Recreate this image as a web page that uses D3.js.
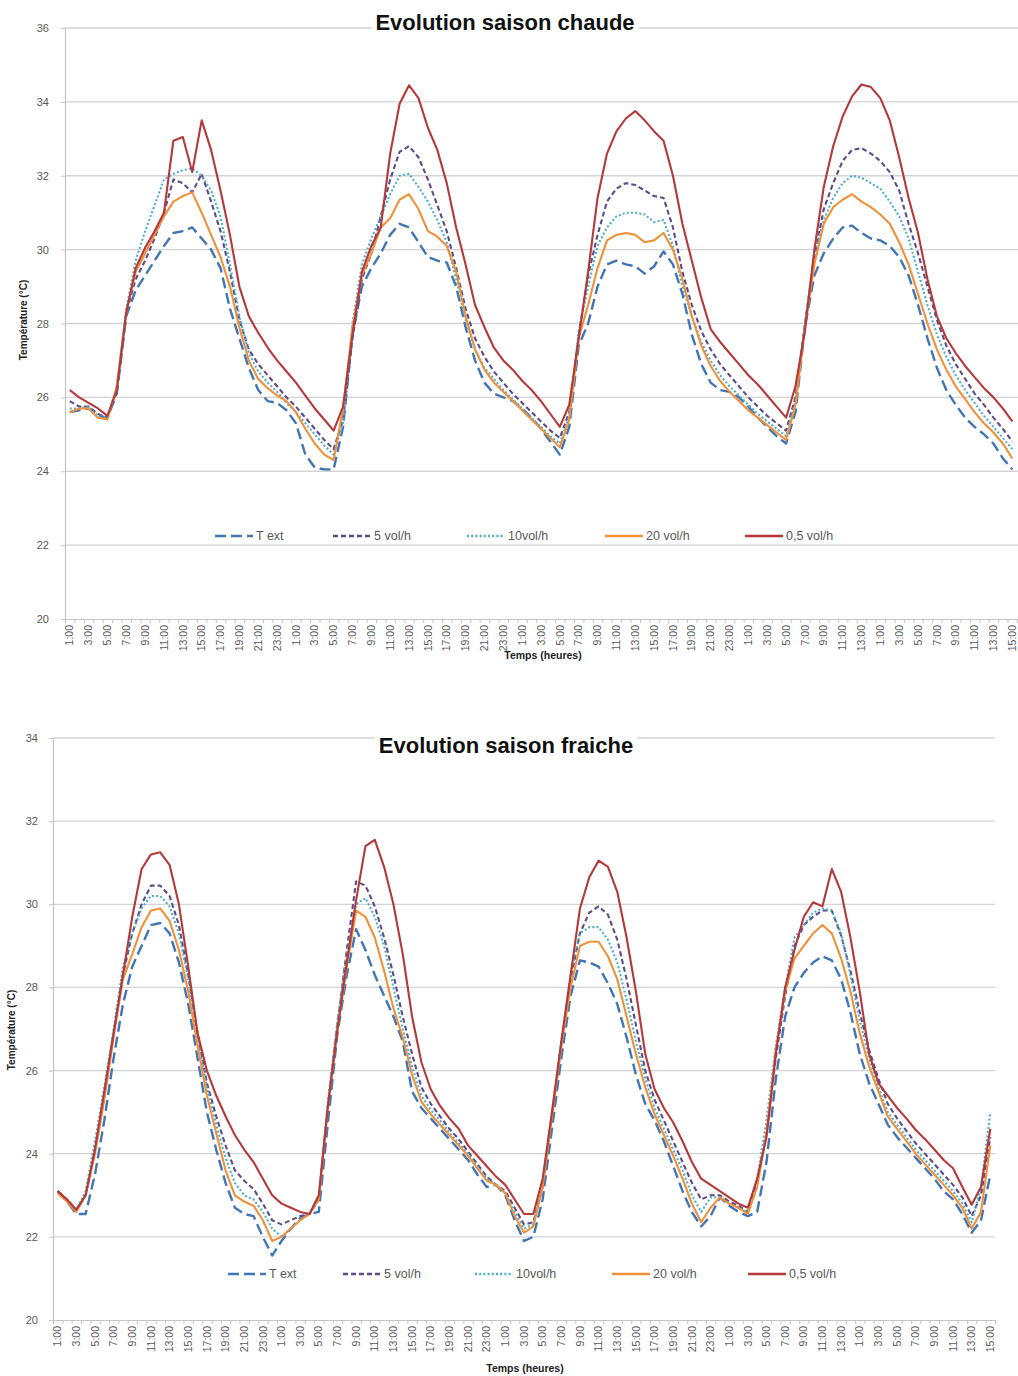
<!DOCTYPE html>
<html><head><meta charset="utf-8">
<script src="https://cdn.jsdelivr.net/npm/d3@7/dist/d3.min.js"></script>
<style>
body{margin:0;background:#fff}
svg{display:block}
text{font-family:"Liberation Sans",Arial,sans-serif}
</style>
</head><body>
<svg id="chart" width="1018" height="1376"></svg>
<script>
// ---------- categories (hour of the day, one point per hour) ----------
const hours = [1,2,3,4,5,6,7,8,9,10,11,12,13,14,15,16,17,18,19,20,21,22,23,0,
               1,2,3,4,5,6,7,8,9,10,11,12,13,14,15,16,17,18,19,20,21,22,23,0,
               1,2,3,4,5,6,7,8,9,10,11,12,13,14,15,16,17,18,19,20,21,22,23,0,
               1,2,3,4,5,6,7,8,9,10,11,12,13,0,
               1,2,3,4,5,6,7,8,9,10,11,12,13,14,15];

const seriesNames = ["T ext","5 vol/h","10vol/h","20 vol/h","0,5 vol/h"];

// ---------- hot season ----------
const hotText = [25.6,25.65,25.7,25.5,25.45,26.1,28.2,28.9,29.3,29.7,30.1,30.45,30.5,30.6,30.3,30.0,29.5,28.4,27.6,26.8,26.2,25.9,25.85,25.65,
 25.3,24.45,24.1,24.05,24.05,25.2,27.7,29.0,29.5,29.9,30.4,30.7,30.6,30.2,29.8,29.7,29.65,29.0,27.9,27.0,26.4,26.1,26.0,25.9,
 25.7,25.45,25.15,24.8,24.45,25.2,27.4,28.0,29.0,29.6,29.7,29.6,29.55,29.35,29.55,29.95,29.6,28.8,27.7,26.9,26.4,26.2,26.15,26.0,
 25.75,25.45,25.2,24.95,24.75,25.6,27.9,29.3,29.9,30.3,30.6,30.65,30.45,30.3,
 30.25,30.1,29.8,29.3,28.5,27.6,26.8,26.2,25.8,25.45,25.2,25.0,24.75,24.35,24.05];
const hot5 = [25.9,25.75,25.75,25.55,25.45,26.2,28.3,29.2,29.7,30.3,31.0,31.9,31.8,31.55,32.05,31.3,30.5,29.4,28.1,27.3,26.9,26.6,26.3,26.0,
 25.75,25.45,25.15,24.85,24.6,25.4,27.6,29.2,29.9,30.9,31.9,32.65,32.8,32.5,31.9,31.2,30.5,29.5,28.4,27.6,27.1,26.7,26.4,26.1,
 25.85,25.6,25.35,25.1,24.9,25.6,27.7,29.3,30.4,31.3,31.65,31.8,31.75,31.6,31.45,31.4,30.6,29.4,28.5,27.8,27.3,26.9,26.6,26.3,
 26.0,25.75,25.5,25.3,25.1,26.0,28.0,29.8,31.1,31.8,32.4,32.7,32.75,32.6,
 32.4,32.1,31.6,30.7,29.9,29.0,28.1,27.4,26.9,26.5,26.1,25.8,25.45,25.15,24.8];
const hot10 = [25.7,25.7,25.75,25.5,25.45,26.3,28.4,29.7,30.5,31.2,31.9,32.05,32.15,32.2,32.0,31.6,30.9,29.6,28.2,27.2,26.7,26.4,26.15,25.85,
 25.6,25.3,25.0,24.7,24.45,25.3,28.0,29.6,30.3,30.9,31.5,32.0,32.05,31.7,31.3,30.8,30.2,29.2,28.1,27.3,26.8,26.5,26.2,25.95,
 25.7,25.45,25.2,24.95,24.75,25.5,27.8,29.0,30.1,30.6,30.9,31.0,31.0,30.95,30.75,30.8,30.1,29.0,28.2,27.5,27.0,26.6,26.3,26.05,
 25.8,25.55,25.35,25.15,24.95,25.9,28.0,29.9,30.8,31.4,31.8,32.0,31.95,31.8,
 31.65,31.3,30.9,30.3,29.4,28.5,27.7,27.1,26.6,26.2,25.85,25.5,25.2,24.9,24.6];
const hot20 = [25.6,25.7,25.7,25.45,25.4,26.3,28.3,29.4,29.9,30.4,30.9,31.3,31.45,31.55,31.0,30.4,29.8,29.0,27.9,27.0,26.5,26.25,26.05,25.9,
 25.6,25.15,24.75,24.45,24.3,25.7,27.9,29.3,29.9,30.6,30.85,31.35,31.5,31.1,30.5,30.35,30.1,29.4,28.2,27.3,26.75,26.4,26.15,25.9,
 25.65,25.4,25.15,24.9,24.65,25.4,27.6,28.5,29.5,30.25,30.4,30.45,30.4,30.2,30.25,30.45,30.0,29.2,28.2,27.4,26.85,26.45,26.15,25.9,
 25.65,25.45,25.25,25.05,24.85,25.8,27.9,29.6,30.7,31.15,31.35,31.5,31.3,31.15,
 30.95,30.7,30.2,29.6,28.8,28.0,27.3,26.75,26.3,25.95,25.6,25.3,25.05,24.75,24.35];
const hot05 = [26.2,26.0,25.85,25.7,25.5,26.2,28.3,29.5,30.05,30.5,31.0,32.95,33.05,32.1,33.5,32.7,31.6,30.4,29.0,28.2,27.75,27.35,27.0,26.7,
 26.4,26.05,25.7,25.4,25.1,25.75,27.7,29.4,30.1,30.6,32.6,33.95,34.45,34.1,33.3,32.7,31.8,30.6,29.6,28.5,27.9,27.35,27.0,26.75,
 26.45,26.2,25.9,25.55,25.2,25.8,27.6,29.4,31.4,32.6,33.2,33.55,33.75,33.5,33.2,32.95,32.0,30.7,29.7,28.7,27.85,27.5,27.2,26.9,
 26.6,26.35,26.05,25.75,25.45,26.3,27.8,30.0,31.7,32.8,33.6,34.15,34.47,34.4,
 34.1,33.5,32.5,31.4,30.45,29.2,28.2,27.6,27.2,26.85,26.55,26.25,26.0,25.7,25.35];

// ---------- cool season ----------
const coolText = [23.1,22.85,22.55,22.55,23.5,24.8,26.3,27.6,28.5,29.0,29.5,29.55,29.3,28.6,27.6,26.3,25.0,24.1,23.3,22.7,22.55,22.5,22.0,21.55,
 21.9,22.2,22.45,22.55,22.6,24.8,26.9,28.3,29.4,28.9,28.3,27.8,27.3,26.7,25.5,25.1,24.85,24.6,24.35,24.1,23.85,23.5,23.2,23.25,
 23.0,22.4,21.9,22.0,22.9,24.6,26.3,27.8,28.65,28.6,28.5,28.1,27.6,26.8,25.9,25.2,24.8,24.3,23.7,23.1,22.6,22.25,22.5,22.95,
 22.75,22.6,22.5,22.6,23.8,25.8,27.3,28.0,28.35,28.6,28.75,28.65,28.2,27.4,
 26.4,25.7,25.2,24.7,24.4,24.15,23.9,23.65,23.4,23.1,22.9,22.55,22.1,22.4,23.5];
const cool5 = [23.1,22.9,22.65,23.0,24.1,25.4,26.9,28.3,29.3,30.0,30.45,30.45,30.2,29.5,28.3,26.9,25.7,24.9,24.2,23.6,23.35,23.15,22.8,22.4,
 22.3,22.4,22.5,22.55,22.9,25.2,27.1,28.9,30.55,30.45,29.95,29.2,28.3,27.3,26.4,25.6,25.2,24.9,24.6,24.35,24.05,23.75,23.45,23.25,
 23.1,22.7,22.3,22.35,23.2,24.9,26.6,28.2,29.3,29.8,29.95,29.75,29.15,28.2,27.1,26.0,25.3,24.8,24.3,23.8,23.3,22.9,23.0,23.0,
 22.85,22.75,22.6,23.3,24.5,26.3,27.8,29.0,29.5,29.7,29.85,29.85,29.25,28.4,
 27.4,26.5,25.8,25.2,24.85,24.55,24.25,24.0,23.75,23.5,23.25,22.95,22.5,23.0,24.4];
const cool10 = [23.1,22.9,22.65,23.1,24.3,25.6,27.0,28.5,29.3,29.9,30.2,30.2,29.95,29.3,28.2,26.8,25.6,24.7,23.9,23.3,23.0,22.9,22.6,22.2,
 22.0,22.2,22.4,22.55,23.0,25.3,27.2,28.8,30.0,30.15,29.7,29.0,28.0,27.0,26.1,25.4,25.05,24.8,24.5,24.25,24.0,23.7,23.4,23.25,
 23.05,22.6,22.2,22.3,23.3,25.0,26.7,28.3,29.3,29.45,29.45,29.15,28.6,27.7,26.7,25.8,25.1,24.6,24.1,23.6,23.0,22.6,22.95,22.95,
 22.8,22.7,22.6,23.4,24.8,26.6,28.0,29.2,29.5,29.8,29.9,29.85,29.3,28.3,
 27.2,26.3,25.6,25.0,24.7,24.4,24.1,23.85,23.6,23.35,23.1,22.8,22.35,23.2,25.0];
const cool20 = [23.05,22.85,22.6,23.0,24.0,25.3,26.8,28.2,28.8,29.45,29.85,29.9,29.6,28.9,27.9,26.6,25.4,24.5,23.6,23.0,22.85,22.75,22.4,21.9,
 22.0,22.2,22.4,22.55,22.9,25.2,27.0,28.5,29.85,29.7,29.2,28.4,27.5,26.8,25.9,25.25,24.95,24.7,24.45,24.2,23.95,23.65,23.35,23.25,
 23.05,22.5,22.1,22.25,23.2,24.9,26.6,28.0,29.0,29.1,29.1,28.75,28.2,27.3,26.4,25.6,24.95,24.45,23.95,23.4,22.8,22.35,22.7,22.95,
 22.8,22.7,22.55,23.2,24.5,26.5,27.9,28.7,29.0,29.3,29.5,29.3,28.7,27.9,
 26.9,26.1,25.5,24.9,24.6,24.3,24.0,23.75,23.5,23.25,23.0,22.7,22.2,22.6,24.2];
const cool05 = [23.1,22.9,22.65,23.0,24.1,25.5,26.9,28.3,29.7,30.85,31.2,31.25,30.95,30.0,28.5,26.9,26.0,25.4,24.9,24.45,24.1,23.8,23.4,23.0,
 22.8,22.7,22.6,22.55,23.0,25.2,27.0,28.6,30.1,31.4,31.55,30.9,30.0,28.8,27.3,26.2,25.55,25.15,24.85,24.6,24.2,23.95,23.7,23.45,
 23.25,22.9,22.55,22.55,23.4,25.0,26.7,28.3,29.9,30.65,31.05,30.9,30.3,29.2,27.9,26.4,25.55,25.1,24.75,24.3,23.8,23.4,23.25,23.1,
 22.95,22.8,22.7,23.4,24.4,26.4,28.0,28.9,29.7,30.05,29.95,30.85,30.3,29.2,
 27.9,26.4,25.7,25.4,25.1,24.85,24.57,24.35,24.1,23.85,23.65,23.2,22.77,23.2,24.6];

const hotTicks = [20,22,24,26,28,30,32,34,36];
const coolTicks = [20,22,24,26,28,30,32,34];

// ---------- styles ----------
const lineStyles = [
  {color:"#4275b6", width:2.4, dash:"11,5"},
  {color:"#5d4c8c", width:2.1, dash:"5,3"},
  {color:"#4aaec8", width:2.1, dash:"2,2.2"},
  {color:"#f0913a", width:2.1, dash:null},
  {color:"#b5383a", width:2.1, dash:null}
];

const svg = d3.select("#chart");

function drawChart(cfg) {
  const g = svg.append("g");
  const N = hours.length;
  const x = d3.scaleBand().domain(d3.range(N)).range([cfg.left, cfg.right]).paddingInner(0).paddingOuter(0);
  const xb = d3.scaleLinear().domain([0, N]).range([cfg.left, cfg.right]);
  const y = d3.scaleLinear().domain([cfg.yMin, cfg.yMax]).range([cfg.bottom, cfg.top]);
  const bw = x.bandwidth();

  // gridlines
  g.append("g").selectAll("line").data(cfg.ticks.filter(t => t > cfg.yMin)).join("line")
    .attr("x1", cfg.left).attr("x2", cfg.gridRight)
    .attr("y1", d => y(d)).attr("y2", d => y(d))
    .attr("stroke", "#d4d4d4").attr("stroke-width", 1.3);

  // y axis
  const ya = g.append("g").attr("transform", `translate(${cfg.left},0)`)
    .call(d3.axisLeft(y).tickValues(cfg.ticks).tickSize(4).tickPadding(cfg.yPad).tickFormat(d3.format("d")));
  ya.select(".domain").attr("stroke", "#c4c4c4").attr("stroke-width", 1.2);
  ya.selectAll(".tick line").attr("stroke", "#c4c4c4");
  ya.selectAll("text").attr("fill", "#595959").style("font-size", "11px");

  // x axis (category boundary ticks)
  const xa = g.append("g").attr("transform", `translate(0,${cfg.bottom})`)
    .call(d3.axisBottom(xb).tickValues(d3.range(N + 1)).tickSize(4).tickFormat(""));
  xa.select(".domain").attr("stroke", "#c4c4c4").attr("stroke-width", 1.2);
  xa.selectAll(".tick line").attr("stroke", "#c4c4c4");

  // x labels
  const xl = g.append("g").attr("transform", `translate(0,${cfg.bottom})`)
    .call(d3.axisBottom(x).tickValues(d3.range(0, N, 2)).tickSize(0).tickFormat(i => hours[i] + ":00"));
  xl.select(".domain").remove();
  xl.selectAll("text")
    .attr("transform", "rotate(-90)")
    .attr("text-anchor", "end")
    .attr("x", -6).attr("y", 0).attr("dy", "0.35em")
    .attr("fill", "#595959").style("font-size", "10.5px");

  // series
  const series = [cfg.data[0], cfg.data[1], cfg.data[2], cfg.data[3], cfg.data[4]];
  const line = d3.line().x((d, i) => x(i) + bw / 2).y(d => y(d));
  series.forEach((s, k) => {
    const st = lineStyles[k];
    g.append("path").datum(s).attr("d", line)
      .attr("fill", "none").attr("stroke", st.color).attr("stroke-width", st.width)
      .attr("stroke-dasharray", st.dash).attr("stroke-linejoin", "round");
  });

  // legend
  const lg = g.append("g");
  seriesNames.forEach((name, k) => {
    const st = lineStyles[k];
    const lx = cfg.legendX[k];
    lg.append("line").attr("x1", lx).attr("x2", lx + 38).attr("y1", cfg.legendY).attr("y2", cfg.legendY)
      .attr("stroke", st.color).attr("stroke-width", st.width + 0.3).attr("stroke-dasharray", st.dash);
    lg.append("text").attr("x", lx + 41).attr("y", cfg.legendY).attr("dy", "0.35em")
      .attr("fill", "#595959").style("font-size", "12.5px").text(name);
  });

  // title with white backing
  const tt = g.append("text").attr("x", cfg.titleX).attr("y", cfg.titleY).attr("text-anchor", "middle")
    .style("font-size", "22px").style("font-weight", "bold").attr("fill", "#111").text(cfg.title);
  const bb = tt.node().getBBox();
  g.insert("rect", () => tt.node()).attr("x", bb.x - 4).attr("y", bb.y - 2).attr("width", bb.width + 8).attr("height", bb.height + 4).attr("fill", "#fff");

  // axis titles
  g.append("text").attr("transform", `translate(${cfg.yTitleX},${cfg.yTitleY}) rotate(-90)`)
    .attr("text-anchor", "middle").style("font-size", "10px").style("font-weight", "bold").attr("fill", "#222")
    .text("Température (°C)");
  g.append("text").attr("x", cfg.xTitleX).attr("y", cfg.xTitleY).attr("text-anchor", "middle")
    .style("font-size", "10.5px").style("font-weight", "bold").attr("fill", "#222")
    .text("Temps (heures)");
}

drawChart({
  left: 65, right: 1017, gridRight: 1018, top: 28, bottom: 619, yMin: 20, yMax: 36, ticks: hotTicks, yPad: 12,
  data: [hotText, hot5, hot10, hot20, hot05],
  legendY: 536, legendX: [215, 333, 467, 605, 745],
  title: "Evolution saison chaude", titleX: 505, titleY: 30,
  yTitleX: 27, yTitleY: 320, xTitleX: 543, xTitleY: 659
});

drawChart({
  left: 53, right: 995, gridRight: 995, top: 738, bottom: 1320, yMin: 20, yMax: 34, ticks: coolTicks, yPad: 11,
  data: [coolText, cool5, cool10, cool20, cool05],
  legendY: 1274, legendX: [228, 343, 475, 612, 748],
  title: "Evolution saison fraiche", titleX: 506, titleY: 753,
  yTitleX: 15, yTitleY: 1030, xTitleX: 525, xTitleY: 1372
});
</script>
</body></html>
